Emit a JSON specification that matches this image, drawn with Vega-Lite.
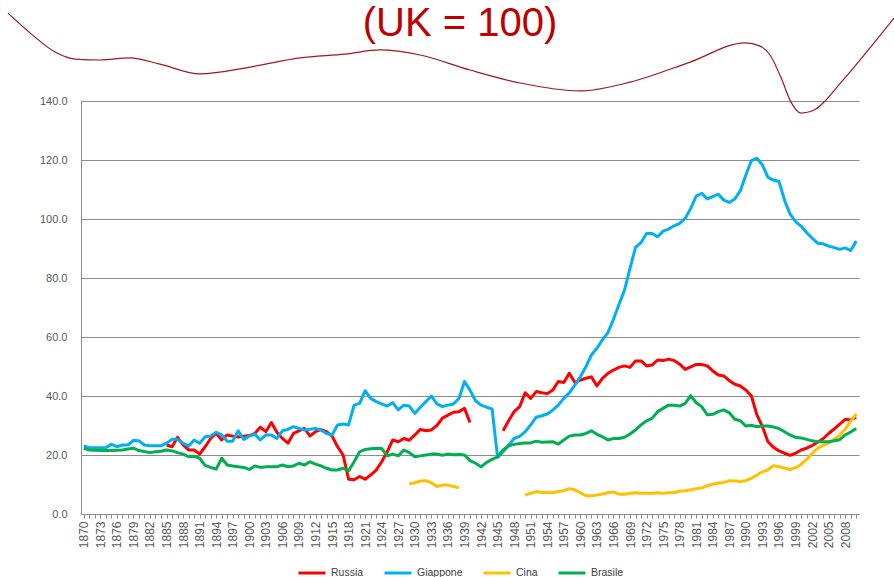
{
  "$schema": "https://vega.github.io/schema/vega-lite/v6.json",
  "width": 778,
  "height": 413,
  "autosize": {"type": "none"},
  "padding": {"left": 81, "top": 101, "right": 35, "bottom": 63},
  "background": "white",
  "title": {"text": "(UK = 100)", "color": "#C00000", "fontSize": 40, "font": "Liberation Sans", "fontWeight": "normal", "anchor": "middle", "offset": -33, "dx": -10},
  "config": {
    "view": {"stroke": null},
    "axis": {"labelFont": "Liberation Sans", "domainColor": "#8C8C8C", "tickColor": "#8C8C8C", "labelColor": "#595959"},
    "legend": {"labelFont": "Liberation Sans"}
  },
  "datasets": {
    "decor": [
      {"year": 1856.27, "value": 169.8}, {"year": 1860.26, "value": 163.1}, {"year": 1864.79, "value": 156.6},
      {"year": 1868.41, "value": 154.2}, {"year": 1872.94, "value": 153.9}, {"year": 1878.38, "value": 154.6},
      {"year": 1883.82, "value": 152.5}, {"year": 1891.07, "value": 149.2}, {"year": 1900.13, "value": 151.5},
      {"year": 1909.19, "value": 154.6}, {"year": 1917.35, "value": 155.9}, {"year": 1923.69, "value": 157.3},
      {"year": 1930.94, "value": 155.6}, {"year": 1940.0, "value": 150.5}, {"year": 1949.07, "value": 146.1},
      {"year": 1959.94, "value": 143.4}, {"year": 1969.0, "value": 146.4}, {"year": 1979.88, "value": 153.2},
      {"year": 1989.84, "value": 159.7}, {"year": 1992.56, "value": 158.6}, {"year": 1994.37, "value": 155.6},
      {"year": 1996.55, "value": 147.1}, {"year": 1997.99, "value": 140.3}, {"year": 1999.99, "value": 135.9},
      {"year": 2001.98, "value": 136.6}, {"year": 2007.6, "value": 147.1}, {"year": 2012.49, "value": 158.0},
      {"year": 2016.84, "value": 168.1}
    ],
    "gdp": [
      {"series":"Russia","year":1885,"value":23.4},{"series":"Russia","year":1886,"value":22.8},{"series":"Russia","year":1887,"value":26.0},{"series":"Russia","year":1888,"value":23.4},{"series":"Russia","year":1889,"value":21.7},{"series":"Russia","year":1890,"value":21.7},{"series":"Russia","year":1891,"value":20.3},{"series":"Russia","year":1892,"value":22.8},{"series":"Russia","year":1893,"value":25.6},{"series":"Russia","year":1894,"value":27.3},{"series":"Russia","year":1895,"value":25.1},{"series":"Russia","year":1896,"value":26.8},{"series":"Russia","year":1897,"value":26.4},{"series":"Russia","year":1898,"value":26.1},{"series":"Russia","year":1899,"value":26.4},{"series":"Russia","year":1900,"value":26.6},{"series":"Russia","year":1901,"value":27.3},{"series":"Russia","year":1902,"value":29.4},{"series":"Russia","year":1903,"value":27.9},{"series":"Russia","year":1904,"value":31.0},{"series":"Russia","year":1905,"value":27.7},{"series":"Russia","year":1906,"value":25.6},{"series":"Russia","year":1907,"value":24.0},{"series":"Russia","year":1908,"value":27.3},{"series":"Russia","year":1909,"value":28.2},{"series":"Russia","year":1910,"value":29.0},{"series":"Russia","year":1911,"value":26.4},{"series":"Russia","year":1912,"value":27.9},{"series":"Russia","year":1913,"value":28.6},{"series":"Russia","year":1914,"value":27.9},{"series":"Russia","year":1915,"value":26.4},{"series":"Russia","year":1916,"value":22.8},{"series":"Russia","year":1917,"value":20.0},{"series":"Russia","year":1918,"value":11.8},{"series":"Russia","year":1919,"value":11.6},{"series":"Russia","year":1920,"value":12.7},{"series":"Russia","year":1921,"value":11.8},{"series":"Russia","year":1922,"value":13.2},{"series":"Russia","year":1923,"value":14.9},{"series":"Russia","year":1924,"value":17.7},{"series":"Russia","year":1925,"value":21.1},{"series":"Russia","year":1926,"value":25.1},{"series":"Russia","year":1927,"value":24.5},{"series":"Russia","year":1928,"value":25.6},{"series":"Russia","year":1929,"value":25.0},{"series":"Russia","year":1930,"value":26.8},{"series":"Russia","year":1931,"value":28.7},{"series":"Russia","year":1932,"value":28.2},{"series":"Russia","year":1933,"value":28.5},{"series":"Russia","year":1934,"value":30.0},{"series":"Russia","year":1935,"value":32.5},{"series":"Russia","year":1936,"value":33.5},{"series":"Russia","year":1937,"value":34.5},{"series":"Russia","year":1938,"value":34.7},{"series":"Russia","year":1939,"value":35.8},{"series":"Russia","year":1940,"value":31.0},{"series":"Russia","year":1943,"value":null},{"series":"Russia","year":1946,"value":28.2},{"series":"Russia","year":1947,"value":31.6},{"series":"Russia","year":1948,"value":34.7},{"series":"Russia","year":1949,"value":36.4},{"series":"Russia","year":1950,"value":41.1},{"series":"Russia","year":1951,"value":39.2},{"series":"Russia","year":1952,"value":41.5},{"series":"Russia","year":1953,"value":41.1},{"series":"Russia","year":1954,"value":40.8},{"series":"Russia","year":1955,"value":42.0},{"series":"Russia","year":1956,"value":44.9},{"series":"Russia","year":1957,"value":44.6},{"series":"Russia","year":1958,"value":47.7},{"series":"Russia","year":1959,"value":44.6},{"series":"Russia","year":1960,"value":45.4},{"series":"Russia","year":1961,"value":46.0},{"series":"Russia","year":1962,"value":46.5},{"series":"Russia","year":1963,"value":43.4},{"series":"Russia","year":1964,"value":46.0},{"series":"Russia","year":1965,"value":47.7},{"series":"Russia","year":1966,"value":48.8},{"series":"Russia","year":1967,"value":49.7},{"series":"Russia","year":1968,"value":50.2},{"series":"Russia","year":1969,"value":49.7},{"series":"Russia","year":1970,"value":51.9},{"series":"Russia","year":1971,"value":51.9},{"series":"Russia","year":1972,"value":50.2},{"series":"Russia","year":1973,"value":50.5},{"series":"Russia","year":1974,"value":52.2},{"series":"Russia","year":1975,"value":52.0},{"series":"Russia","year":1976,"value":52.5},{"series":"Russia","year":1977,"value":52.0},{"series":"Russia","year":1978,"value":50.8},{"series":"Russia","year":1979,"value":49.0},{"series":"Russia","year":1980,"value":49.9},{"series":"Russia","year":1981,"value":50.7},{"series":"Russia","year":1982,"value":50.7},{"series":"Russia","year":1983,"value":50.2},{"series":"Russia","year":1984,"value":48.5},{"series":"Russia","year":1985,"value":47.1},{"series":"Russia","year":1986,"value":46.8},{"series":"Russia","year":1987,"value":45.2},{"series":"Russia","year":1988,"value":44.0},{"series":"Russia","year":1989,"value":43.4},{"series":"Russia","year":1990,"value":42.0},{"series":"Russia","year":1991,"value":40.0},{"series":"Russia","year":1992,"value":33.6},{"series":"Russia","year":1993,"value":29.6},{"series":"Russia","year":1994,"value":24.5},{"series":"Russia","year":1995,"value":22.6},{"series":"Russia","year":1996,"value":21.4},{"series":"Russia","year":1997,"value":20.6},{"series":"Russia","year":1998,"value":19.9},{"series":"Russia","year":1999,"value":20.6},{"series":"Russia","year":2000,"value":21.7},{"series":"Russia","year":2001,"value":22.3},{"series":"Russia","year":2002,"value":23.2},{"series":"Russia","year":2003,"value":24.3},{"series":"Russia","year":2004,"value":25.5},{"series":"Russia","year":2005,"value":27.3},{"series":"Russia","year":2006,"value":28.8},{"series":"Russia","year":2007,"value":30.5},{"series":"Russia","year":2008,"value":32.1},{"series":"Russia","year":2009,"value":31.9},{"series":"Russia","year":2010,"value":32.8},
      {"series":"Giappone","year":1870,"value":23.1},{"series":"Giappone","year":1871,"value":22.5},{"series":"Giappone","year":1872,"value":22.5},{"series":"Giappone","year":1873,"value":22.5},{"series":"Giappone","year":1874,"value":22.5},{"series":"Giappone","year":1875,"value":23.6},{"series":"Giappone","year":1876,"value":22.8},{"series":"Giappone","year":1877,"value":23.4},{"series":"Giappone","year":1878,"value":23.4},{"series":"Giappone","year":1879,"value":24.9},{"series":"Giappone","year":1880,"value":24.8},{"series":"Giappone","year":1881,"value":23.4},{"series":"Giappone","year":1882,"value":23.1},{"series":"Giappone","year":1883,"value":23.1},{"series":"Giappone","year":1884,"value":23.1},{"series":"Giappone","year":1885,"value":24.0},{"series":"Giappone","year":1886,"value":25.3},{"series":"Giappone","year":1887,"value":25.3},{"series":"Giappone","year":1888,"value":24.0},{"series":"Giappone","year":1889,"value":23.0},{"series":"Giappone","year":1890,"value":25.1},{"series":"Giappone","year":1891,"value":24.0},{"series":"Giappone","year":1892,"value":26.2},{"series":"Giappone","year":1893,"value":26.4},{"series":"Giappone","year":1894,"value":27.7},{"series":"Giappone","year":1895,"value":26.8},{"series":"Giappone","year":1896,"value":24.7},{"series":"Giappone","year":1897,"value":24.7},{"series":"Giappone","year":1898,"value":28.2},{"series":"Giappone","year":1899,"value":25.3},{"series":"Giappone","year":1900,"value":26.4},{"series":"Giappone","year":1901,"value":27.1},{"series":"Giappone","year":1902,"value":25.1},{"series":"Giappone","year":1903,"value":26.8},{"series":"Giappone","year":1904,"value":26.8},{"series":"Giappone","year":1905,"value":25.6},{"series":"Giappone","year":1906,"value":28.2},{"series":"Giappone","year":1907,"value":28.7},{"series":"Giappone","year":1908,"value":29.6},{"series":"Giappone","year":1909,"value":29.0},{"series":"Giappone","year":1910,"value":28.5},{"series":"Giappone","year":1911,"value":28.7},{"series":"Giappone","year":1912,"value":29.0},{"series":"Giappone","year":1913,"value":28.5},{"series":"Giappone","year":1914,"value":27.3},{"series":"Giappone","year":1915,"value":26.8},{"series":"Giappone","year":1916,"value":30.2},{"series":"Giappone","year":1917,"value":30.5},{"series":"Giappone","year":1918,"value":30.2},{"series":"Giappone","year":1919,"value":36.9},{"series":"Giappone","year":1920,"value":37.5},{"series":"Giappone","year":1921,"value":41.8},{"series":"Giappone","year":1922,"value":39.2},{"series":"Giappone","year":1923,"value":38.1},{"series":"Giappone","year":1924,"value":37.3},{"series":"Giappone","year":1925,"value":36.6},{"series":"Giappone","year":1926,"value":37.7},{"series":"Giappone","year":1927,"value":35.3},{"series":"Giappone","year":1928,"value":36.9},{"series":"Giappone","year":1929,"value":36.6},{"series":"Giappone","year":1930,"value":34.1},{"series":"Giappone","year":1931,"value":36.2},{"series":"Giappone","year":1932,"value":38.1},{"series":"Giappone","year":1933,"value":40.0},{"series":"Giappone","year":1934,"value":37.3},{"series":"Giappone","year":1935,"value":36.4},{"series":"Giappone","year":1936,"value":36.9},{"series":"Giappone","year":1937,"value":37.3},{"series":"Giappone","year":1938,"value":39.2},{"series":"Giappone","year":1939,"value":44.9},{"series":"Giappone","year":1940,"value":42.0},{"series":"Giappone","year":1941,"value":38.4},{"series":"Giappone","year":1942,"value":36.9},{"series":"Giappone","year":1943,"value":36.2},{"series":"Giappone","year":1944,"value":35.6},{"series":"Giappone","year":1945,"value":19.2},{"series":"Giappone","year":1946,"value":21.1},{"series":"Giappone","year":1947,"value":23.4},{"series":"Giappone","year":1948,"value":25.6},{"series":"Giappone","year":1949,"value":26.3},{"series":"Giappone","year":1950,"value":27.9},{"series":"Giappone","year":1951,"value":30.2},{"series":"Giappone","year":1952,"value":32.8},{"series":"Giappone","year":1953,"value":33.3},{"series":"Giappone","year":1954,"value":33.9},{"series":"Giappone","year":1955,"value":35.2},{"series":"Giappone","year":1956,"value":36.9},{"series":"Giappone","year":1957,"value":39.2},{"series":"Giappone","year":1958,"value":41.1},{"series":"Giappone","year":1959,"value":43.7},{"series":"Giappone","year":1960,"value":46.5},{"series":"Giappone","year":1961,"value":49.9},{"series":"Giappone","year":1962,"value":53.9},{"series":"Giappone","year":1963,"value":56.2},{"series":"Giappone","year":1964,"value":59.0},{"series":"Giappone","year":1965,"value":61.5},{"series":"Giappone","year":1966,"value":66.0},{"series":"Giappone","year":1967,"value":71.0},{"series":"Giappone","year":1968,"value":75.9},{"series":"Giappone","year":1969,"value":83.3},{"series":"Giappone","year":1970,"value":90.4},{"series":"Giappone","year":1971,"value":92.0},{"series":"Giappone","year":1972,"value":95.1},{"series":"Giappone","year":1973,"value":95.1},{"series":"Giappone","year":1974,"value":94.0},{"series":"Giappone","year":1975,"value":95.9},{"series":"Giappone","year":1976,"value":96.6},{"series":"Giappone","year":1977,"value":97.7},{"series":"Giappone","year":1978,"value":98.5},{"series":"Giappone","year":1979,"value":100.2},{"series":"Giappone","year":1980,"value":103.6},{"series":"Giappone","year":1981,"value":107.8},{"series":"Giappone","year":1982,"value":108.7},{"series":"Giappone","year":1983,"value":106.8},{"series":"Giappone","year":1984,"value":107.6},{"series":"Giappone","year":1985,"value":108.4},{"series":"Giappone","year":1986,"value":106.4},{"series":"Giappone","year":1987,"value":105.6},{"series":"Giappone","year":1988,"value":106.8},{"series":"Giappone","year":1989,"value":109.6},{"series":"Giappone","year":1990,"value":114.9},{"series":"Giappone","year":1991,"value":119.8},{"series":"Giappone","year":1992,"value":120.6},{"series":"Giappone","year":1993,"value":118.3},{"series":"Giappone","year":1994,"value":114.1},{"series":"Giappone","year":1995,"value":113.2},{"series":"Giappone","year":1996,"value":112.7},{"series":"Giappone","year":1997,"value":106.4},{"series":"Giappone","year":1998,"value":101.7},{"series":"Giappone","year":1999,"value":99.1},{"series":"Giappone","year":2000,"value":97.6},{"series":"Giappone","year":2001,"value":95.4},{"series":"Giappone","year":2002,"value":93.5},{"series":"Giappone","year":2003,"value":91.8},{"series":"Giappone","year":2004,"value":91.6},{"series":"Giappone","year":2005,"value":90.8},{"series":"Giappone","year":2006,"value":90.3},{"series":"Giappone","year":2007,"value":89.7},{"series":"Giappone","year":2008,"value":90.2},{"series":"Giappone","year":2009,"value":89.3},{"series":"Giappone","year":2010,"value":92.5},
      {"series":"Cina","year":1929,"value":10.2},{"series":"Cina","year":1930,"value":10.6},{"series":"Cina","year":1931,"value":11.2},{"series":"Cina","year":1932,"value":11.3},{"series":"Cina","year":1933,"value":10.6},{"series":"Cina","year":1934,"value":9.3},{"series":"Cina","year":1935,"value":9.8},{"series":"Cina","year":1936,"value":9.8},{"series":"Cina","year":1937,"value":9.3},{"series":"Cina","year":1938,"value":8.9},{"series":"Cina","year":1944,"value":null},{"series":"Cina","year":1950,"value":6.4},{"series":"Cina","year":1951,"value":7.0},{"series":"Cina","year":1952,"value":7.6},{"series":"Cina","year":1953,"value":7.3},{"series":"Cina","year":1954,"value":7.3},{"series":"Cina","year":1955,"value":7.2},{"series":"Cina","year":1956,"value":7.6},{"series":"Cina","year":1957,"value":7.9},{"series":"Cina","year":1958,"value":8.6},{"series":"Cina","year":1959,"value":8.2},{"series":"Cina","year":1960,"value":7.2},{"series":"Cina","year":1961,"value":6.2},{"series":"Cina","year":1962,"value":6.2},{"series":"Cina","year":1963,"value":6.4},{"series":"Cina","year":1964,"value":6.8},{"series":"Cina","year":1965,"value":7.2},{"series":"Cina","year":1966,"value":7.5},{"series":"Cina","year":1967,"value":6.7},{"series":"Cina","year":1968,"value":6.7},{"series":"Cina","year":1969,"value":7.0},{"series":"Cina","year":1970,"value":7.2},{"series":"Cina","year":1971,"value":7.0},{"series":"Cina","year":1972,"value":7.0},{"series":"Cina","year":1973,"value":7.0},{"series":"Cina","year":1974,"value":7.2},{"series":"Cina","year":1975,"value":7.0},{"series":"Cina","year":1976,"value":7.2},{"series":"Cina","year":1977,"value":7.3},{"series":"Cina","year":1978,"value":7.7},{"series":"Cina","year":1979,"value":7.9},{"series":"Cina","year":1980,"value":8.2},{"series":"Cina","year":1981,"value":8.6},{"series":"Cina","year":1982,"value":8.8},{"series":"Cina","year":1983,"value":9.6},{"series":"Cina","year":1984,"value":10.1},{"series":"Cina","year":1985,"value":10.5},{"series":"Cina","year":1986,"value":10.7},{"series":"Cina","year":1987,"value":11.3},{"series":"Cina","year":1988,"value":11.2},{"series":"Cina","year":1989,"value":11.0},{"series":"Cina","year":1990,"value":11.3},{"series":"Cina","year":1991,"value":12.1},{"series":"Cina","year":1992,"value":13.2},{"series":"Cina","year":1993,"value":14.3},{"series":"Cina","year":1994,"value":14.9},{"series":"Cina","year":1995,"value":16.4},{"series":"Cina","year":1996,"value":16.0},{"series":"Cina","year":1997,"value":15.6},{"series":"Cina","year":1998,"value":15.1},{"series":"Cina","year":1999,"value":15.7},{"series":"Cina","year":2000,"value":16.8},{"series":"Cina","year":2001,"value":18.5},{"series":"Cina","year":2002,"value":20.5},{"series":"Cina","year":2003,"value":22.3},{"series":"Cina","year":2004,"value":23.3},{"series":"Cina","year":2005,"value":24.1},{"series":"Cina","year":2006,"value":25.3},{"series":"Cina","year":2007,"value":26.7},{"series":"Cina","year":2008,"value":28.8},{"series":"Cina","year":2009,"value":31.5},{"series":"Cina","year":2010,"value":33.9},
      {"series":"Brasile","year":1870,"value":22.3},{"series":"Brasile","year":1871,"value":21.7},{"series":"Brasile","year":1872,"value":21.6},{"series":"Brasile","year":1873,"value":21.5},{"series":"Brasile","year":1874,"value":21.5},{"series":"Brasile","year":1875,"value":21.5},{"series":"Brasile","year":1876,"value":21.6},{"series":"Brasile","year":1877,"value":21.7},{"series":"Brasile","year":1878,"value":22.0},{"series":"Brasile","year":1879,"value":22.3},{"series":"Brasile","year":1880,"value":21.5},{"series":"Brasile","year":1881,"value":21.2},{"series":"Brasile","year":1882,"value":20.8},{"series":"Brasile","year":1883,"value":21.1},{"series":"Brasile","year":1884,"value":21.3},{"series":"Brasile","year":1885,"value":21.7},{"series":"Brasile","year":1886,"value":21.4},{"series":"Brasile","year":1887,"value":20.8},{"series":"Brasile","year":1888,"value":20.3},{"series":"Brasile","year":1889,"value":19.4},{"series":"Brasile","year":1890,"value":19.6},{"series":"Brasile","year":1891,"value":18.9},{"series":"Brasile","year":1892,"value":16.5},{"series":"Brasile","year":1893,"value":15.8},{"series":"Brasile","year":1894,"value":15.2},{"series":"Brasile","year":1895,"value":18.9},{"series":"Brasile","year":1896,"value":16.6},{"series":"Brasile","year":1897,"value":16.3},{"series":"Brasile","year":1898,"value":16.0},{"series":"Brasile","year":1899,"value":15.8},{"series":"Brasile","year":1900,"value":15.1},{"series":"Brasile","year":1901,"value":16.3},{"series":"Brasile","year":1902,"value":15.8},{"series":"Brasile","year":1903,"value":16.0},{"series":"Brasile","year":1904,"value":16.0},{"series":"Brasile","year":1905,"value":16.0},{"series":"Brasile","year":1906,"value":16.6},{"series":"Brasile","year":1907,"value":16.0},{"series":"Brasile","year":1908,"value":16.3},{"series":"Brasile","year":1909,"value":17.2},{"series":"Brasile","year":1910,"value":16.6},{"series":"Brasile","year":1911,"value":17.7},{"series":"Brasile","year":1912,"value":16.9},{"series":"Brasile","year":1913,"value":16.3},{"series":"Brasile","year":1914,"value":15.5},{"series":"Brasile","year":1915,"value":14.9},{"series":"Brasile","year":1916,"value":14.9},{"series":"Brasile","year":1917,"value":15.5},{"series":"Brasile","year":1918,"value":14.7},{"series":"Brasile","year":1919,"value":17.7},{"series":"Brasile","year":1920,"value":21.1},{"series":"Brasile","year":1921,"value":21.9},{"series":"Brasile","year":1922,"value":22.1},{"series":"Brasile","year":1923,"value":22.3},{"series":"Brasile","year":1924,"value":22.2},{"series":"Brasile","year":1925,"value":19.7},{"series":"Brasile","year":1926,"value":20.3},{"series":"Brasile","year":1927,"value":19.7},{"series":"Brasile","year":1928,"value":21.7},{"series":"Brasile","year":1929,"value":20.8},{"series":"Brasile","year":1930,"value":19.4},{"series":"Brasile","year":1931,"value":19.7},{"series":"Brasile","year":1932,"value":20.0},{"series":"Brasile","year":1933,"value":20.3},{"series":"Brasile","year":1934,"value":20.3},{"series":"Brasile","year":1935,"value":19.9},{"series":"Brasile","year":1936,"value":20.3},{"series":"Brasile","year":1937,"value":20.1},{"series":"Brasile","year":1938,"value":20.2},{"series":"Brasile","year":1939,"value":20.0},{"series":"Brasile","year":1940,"value":18.1},{"series":"Brasile","year":1941,"value":17.2},{"series":"Brasile","year":1942,"value":16.0},{"series":"Brasile","year":1943,"value":17.5},{"series":"Brasile","year":1944,"value":18.5},{"series":"Brasile","year":1945,"value":19.4},{"series":"Brasile","year":1946,"value":21.7},{"series":"Brasile","year":1947,"value":23.1},{"series":"Brasile","year":1948,"value":23.6},{"series":"Brasile","year":1949,"value":23.9},{"series":"Brasile","year":1950,"value":24.1},{"series":"Brasile","year":1951,"value":24.1},{"series":"Brasile","year":1952,"value":24.7},{"series":"Brasile","year":1953,"value":24.3},{"series":"Brasile","year":1954,"value":24.4},{"series":"Brasile","year":1955,"value":24.5},{"series":"Brasile","year":1956,"value":23.7},{"series":"Brasile","year":1957,"value":25.1},{"series":"Brasile","year":1958,"value":26.4},{"series":"Brasile","year":1959,"value":26.8},{"series":"Brasile","year":1960,"value":26.8},{"series":"Brasile","year":1961,"value":27.3},{"series":"Brasile","year":1962,"value":28.2},{"series":"Brasile","year":1963,"value":27.0},{"series":"Brasile","year":1964,"value":26.2},{"series":"Brasile","year":1965,"value":25.1},{"series":"Brasile","year":1966,"value":25.6},{"series":"Brasile","year":1967,"value":25.6},{"series":"Brasile","year":1968,"value":26.0},{"series":"Brasile","year":1969,"value":27.1},{"series":"Brasile","year":1970,"value":28.5},{"series":"Brasile","year":1971,"value":30.2},{"series":"Brasile","year":1972,"value":31.6},{"series":"Brasile","year":1973,"value":32.4},{"series":"Brasile","year":1974,"value":34.7},{"series":"Brasile","year":1975,"value":35.8},{"series":"Brasile","year":1976,"value":36.9},{"series":"Brasile","year":1977,"value":36.9},{"series":"Brasile","year":1978,"value":36.6},{"series":"Brasile","year":1979,"value":37.5},{"series":"Brasile","year":1980,"value":40.1},{"series":"Brasile","year":1981,"value":37.7},{"series":"Brasile","year":1982,"value":36.4},{"series":"Brasile","year":1983,"value":33.6},{"series":"Brasile","year":1984,"value":33.8},{"series":"Brasile","year":1985,"value":34.7},{"series":"Brasile","year":1986,"value":35.3},{"series":"Brasile","year":1987,"value":34.3},{"series":"Brasile","year":1988,"value":32.1},{"series":"Brasile","year":1989,"value":31.6},{"series":"Brasile","year":1990,"value":29.8},{"series":"Brasile","year":1991,"value":30.1},{"series":"Brasile","year":1992,"value":29.6},{"series":"Brasile","year":1993,"value":29.8},{"series":"Brasile","year":1994,"value":29.8},{"series":"Brasile","year":1995,"value":29.5},{"series":"Brasile","year":1996,"value":29.0},{"series":"Brasile","year":1997,"value":27.9},{"series":"Brasile","year":1998,"value":26.8},{"series":"Brasile","year":1999,"value":26.0},{"series":"Brasile","year":2000,"value":25.8},{"series":"Brasile","year":2001,"value":25.3},{"series":"Brasile","year":2002,"value":24.8},{"series":"Brasile","year":2003,"value":24.5},{"series":"Brasile","year":2004,"value":24.5},{"series":"Brasile","year":2005,"value":24.5},{"series":"Brasile","year":2006,"value":24.8},{"series":"Brasile","year":2007,"value":25.2},{"series":"Brasile","year":2008,"value":26.8},{"series":"Brasile","year":2009,"value":27.8},{"series":"Brasile","year":2010,"value":29.0}
    ]
  },
  "layer": [
    {
      "data": {"name": "gdp"},
      "mark": {"type": "line", "strokeWidth": 3, "strokeJoin": "round", "invalid": "break-paths-show-domains"},
      "encoding": {
        "x": {"field": "year", "type": "quantitative", "scale": {"domain": [1869.5, 2010.5], "nice": false, "zero": false},
          "axis": {"title": null, "grid": false, "tickCount": 300, "values": [1870,1871,1872,1873,1874,1875,1876,1877,1878,1879,1880,1881,1882,1883,1884,1885,1886,1887,1888,1889,1890,1891,1892,1893,1894,1895,1896,1897,1898,1899,1900,1901,1902,1903,1904,1905,1906,1907,1908,1909,1910,1911,1912,1913,1914,1915,1916,1917,1918,1919,1920,1921,1922,1923,1924,1925,1926,1927,1928,1929,1930,1931,1932,1933,1934,1935,1936,1937,1938,1939,1940,1941,1942,1943,1944,1945,1946,1947,1948,1949,1950,1951,1952,1953,1954,1955,1956,1957,1958,1959,1960,1961,1962,1963,1964,1965,1966,1967,1968,1969,1970,1971,1972,1973,1974,1975,1976,1977,1978,1979,1980,1981,1982,1983,1984,1985,1986,1987,1988,1989,1990,1991,1992,1993,1994,1995,1996,1997,1998,1999,2000,2001,2002,2003,2004,2005,2006,2007,2008,2009,2010],
            "format": "d", "labelExpr": "(datum.value - 1870) % 3 === 0 ? datum.label : ''", "labelAngle": -90, "labelFontSize": 12, "labelPadding": 3, "tickSize": 4, "labelOverlap": false, "labelFlush": false, "labelBound": false}},
        "y": {"field": "value", "type": "quantitative", "scale": {"domain": [0, 140], "nice": false},
          "axis": {"title": null, "values": [0,20,40,60,80,100,120,140], "format": ".1f", "grid": true, "gridColor": "#8C8C8C", "gridWidth": 1, "ticks": false, "labelPadding": 14, "labelFontSize": 11}},
        "color": {"field": "series", "type": "nominal",
          "scale": {"domain": ["Russia", "Giappone", "Cina", "Brasile"], "range": ["#FF0000", "#00B0F0", "#FFC000", "#00B050"]},
          "legend": {"title": null, "orient": "none", "legendX": 216, "legendY": 457, "direction": "horizontal", "symbolType": "stroke", "symbolSize": 729, "symbolStrokeWidth": 3, "labelFontSize": 10.5, "labelColor": "#404040", "columnPadding": 14, "labelOffset": 4, "padding": 0}}
      }
    },
    {
      "data": {"name": "decor"},
      "mark": {"type": "line", "color": "#9B1B1B", "strokeWidth": 1.2, "interpolate": "monotone", "clip": false},
      "encoding": {
        "x": {"field": "year", "type": "quantitative", "scale": {"domain": [1869.5, 2010.5], "nice": false, "zero": false}},
        "y": {"field": "value", "type": "quantitative", "scale": {"domain": [0, 140], "nice": false}}
      }
    }
  ]
}
